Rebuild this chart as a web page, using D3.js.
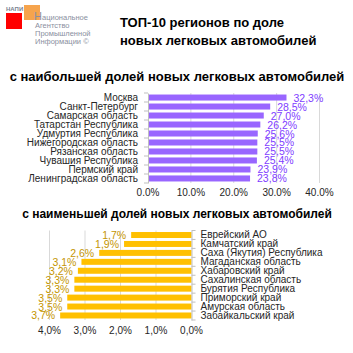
<!DOCTYPE html>
<html>
<head>
<meta charset="utf-8">
<script src="https://cdn.jsdelivr.net/npm/d3@7"></script>
<style>
  body { margin: 0; background: #fff; }
  text { font-family: "Liberation Sans", Arial, sans-serif; }
</style>
</head>
<body>
<div id="chart"></div>
<script>
(function(){

  var w = 353;
  var h = 353;

  // top chart: largest share
  var topRegions = ["Москва", "Санкт-Петербург", "Самарская область", "Татарстан Республика",
    "Удмуртия Республика", "Нижегородская область", "Рязанская область",
    "Чувашия Республика", "Пермский край", "Ленинградская область"];
  var topValues = [32.3, 28.5, 27.0, 26.2, 25.6, 25.5, 25.5, 25.4, 23.9, 23.8];
  var topTicks = [0, 10, 20, 30, 40];

  // bottom chart: smallest share
  var lowRegions = ["Еврейский АО", "Камчатский край", "Саха (Якутия) Республика",
    "Магаданская область", "Хабаровский край", "Сахалинская область",
    "Бурятия Республика", "Приморский край", "Амурская область", "Забайкальский край"];
  var lowValues = [1.7, 1.9, 2.6, 3.1, 3.2, 3.3, 3.3, 3.5, 3.5, 3.7];
  var lowTicks = [0, 1, 2, 3, 4];

  var svg = d3.select("#chart").append("svg")
    .attr("width", w)
    .attr("height", h);

  // logo
  var logo = svg.append("g");
  logo.append("rect").attr("x", 6).attr("y", 13).attr("width", 16).attr("height", 16)
    .style("fill", "#ff0000");
  logo.append("rect").attr("x", 24).attr("y", 5).attr("width", 16).attr("height", 15)
    .style("fill", "#f59a3a").style("opacity", 0.9);
  logo.append("text").attr("x", 6).attr("y", 11).text("НАПИ")
    .style("font-size", "6px").style("font-weight", "bold").style("fill", "#7a7f90");
  logo.append("text").attr("x", 34).attr("y", 20).text("Н")
    .style("font-size", "11px").style("fill", "#8a8fa0");
  logo.selectAll("text.l").data(["ациональное", "Агентство", "Промышленной", "Информации ©"])
    .enter().append("text")
    .attr("class", "l")
    .attr("x", function(d, i){ return i === 0 ? 42 : 35; })
    .attr("y", function(d, i){ return 20 + i * 8; })
    .text(function(d){ return d; })
    .style("font-size", "7.5px")
    .style("fill", "#8a8fa0");

  // titles
  svg.append("text").attr("x", 120).attr("y", 27).text("ТОП-10 регионов по доле")
    .style("font-size", "13px").style("font-weight", "bold").style("fill", "#000");
  svg.append("text").attr("x", 120).attr("y", 45).text("новых легковых автомобилей")
    .style("font-size", "13px").style("font-weight", "bold").style("fill", "#000");
  svg.append("text").attr("x", 177).attr("y", 81).attr("text-anchor", "middle")
    .text("с наибольшей долей новых легковых автомобилей")
    .style("font-size", "13px").style("font-weight", "bold").style("fill", "#000");
  svg.append("text").attr("x", 177).attr("y", 218).attr("text-anchor", "middle")
    .text("с наименьшей долей новых легковых автомобилей")
    .style("font-size", "12px").style("font-weight", "bold").style("fill", "#000");

  function fmtComma(v) {
    return v.toFixed(1).replace(".", ",") + "%";
  }

  function barChart(opts) {
    var g = svg.append("g");
    var x = d3.scaleLinear().domain(opts.domain).range(opts.xRange);
    var y = d3.scaleBand().domain(opts.cats).range(opts.yRange).paddingInner(0.33).paddingOuter(0.17);
    var x0 = x(0);

    // gridlines
    g.selectAll("line.grid").data(opts.ticks.filter(function(t){ return t !== 0; }))
      .enter().append("line")
      .attr("x1", function(d){ return x(d); })
      .attr("x2", function(d){ return x(d); })
      .attr("y1", opts.yRange[0])
      .attr("y2", opts.yRange[1])
      .style("stroke", "#d9d9d9")
      .style("stroke-width", 1);

    // bars
    g.selectAll("rect.bar").data(opts.values)
      .enter().append("rect")
      .attr("x", function(d){ return Math.min(x(d), x0); })
      .attr("width", function(d){ return Math.abs(x(d) - x0); })
      .attr("y", function(d, i){ return y(opts.cats[i]); })
      .attr("height", y.bandwidth())
      .style("fill", opts.color);

    // category axis
    var axis = opts.left ? d3.axisLeft(y) : d3.axisRight(y);
    var ax = g.append("g")
      .attr("transform", "translate(" + x0 + ",0)")
      .call(axis.tickSize(0).tickPadding(opts.left ? 10 : 9));
    ax.select(".domain").style("stroke", "#bfbfbf");
    ax.selectAll("text").style("font-size", "10px").style("fill", "#262626")
      .style("font-family", "\"Liberation Sans\", Arial, sans-serif");

    // small boundary ticks
    var bounds = d3.range(opts.cats.length + 1).map(function(i){
      return opts.yRange[0] + i * (opts.yRange[1] - opts.yRange[0]) / opts.cats.length;
    });
    g.selectAll("line.btick").data(bounds)
      .enter().append("line")
      .attr("x1", x0)
      .attr("x2", opts.left ? x0 - 4 : x0 + 4)
      .attr("y1", function(d){ return d; })
      .attr("y2", function(d){ return d; })
      .style("stroke", "#bfbfbf");

    // value axis labels
    g.selectAll("text.tick").data(opts.ticks)
      .enter().append("text")
      .attr("x", function(d){ return x(d); })
      .attr("y", opts.tickY)
      .attr("text-anchor", "middle")
      .text(opts.tickFormat)
      .style("font-size", "10px")
      .style("fill", "#262626");

    // value labels
    g.selectAll("text.val").data(opts.values)
      .enter().append("text")
      .attr("x", function(d){ return opts.left ? x(d) + 7 : x(d) - 5; })
      .attr("y", function(d, i){ return y(opts.cats[i]) + y.bandwidth() / 2 + 4; })
      .attr("text-anchor", opts.left ? "start" : "end")
      .text(fmtComma)
      .style("font-size", "10.5px")
      .style("fill", opts.labelColor);
  }

  barChart({
    cats: topRegions,
    values: topValues,
    ticks: topTicks,
    domain: [0, 40],
    xRange: [148, 319.5],
    yRange: [93, 183],
    color: "#9966ff",
    labelColor: "#8040ff",
    left: true,
    tickY: 196,
    tickFormat: function(d){ return d.toFixed(1) + "%"; }
  });

  barChart({
    cats: lowRegions,
    values: lowValues,
    ticks: lowTicks,
    domain: [0, 4],
    xRange: [191.5, 49.5],
    yRange: [230.5, 320],
    color: "#ffc000",
    labelColor: "#c49500",
    left: false,
    tickY: 334,
    tickFormat: function(d){ return d.toFixed(1).replace(".", ",") + "%"; }
  });

})();
</script>
</body>
</html>
